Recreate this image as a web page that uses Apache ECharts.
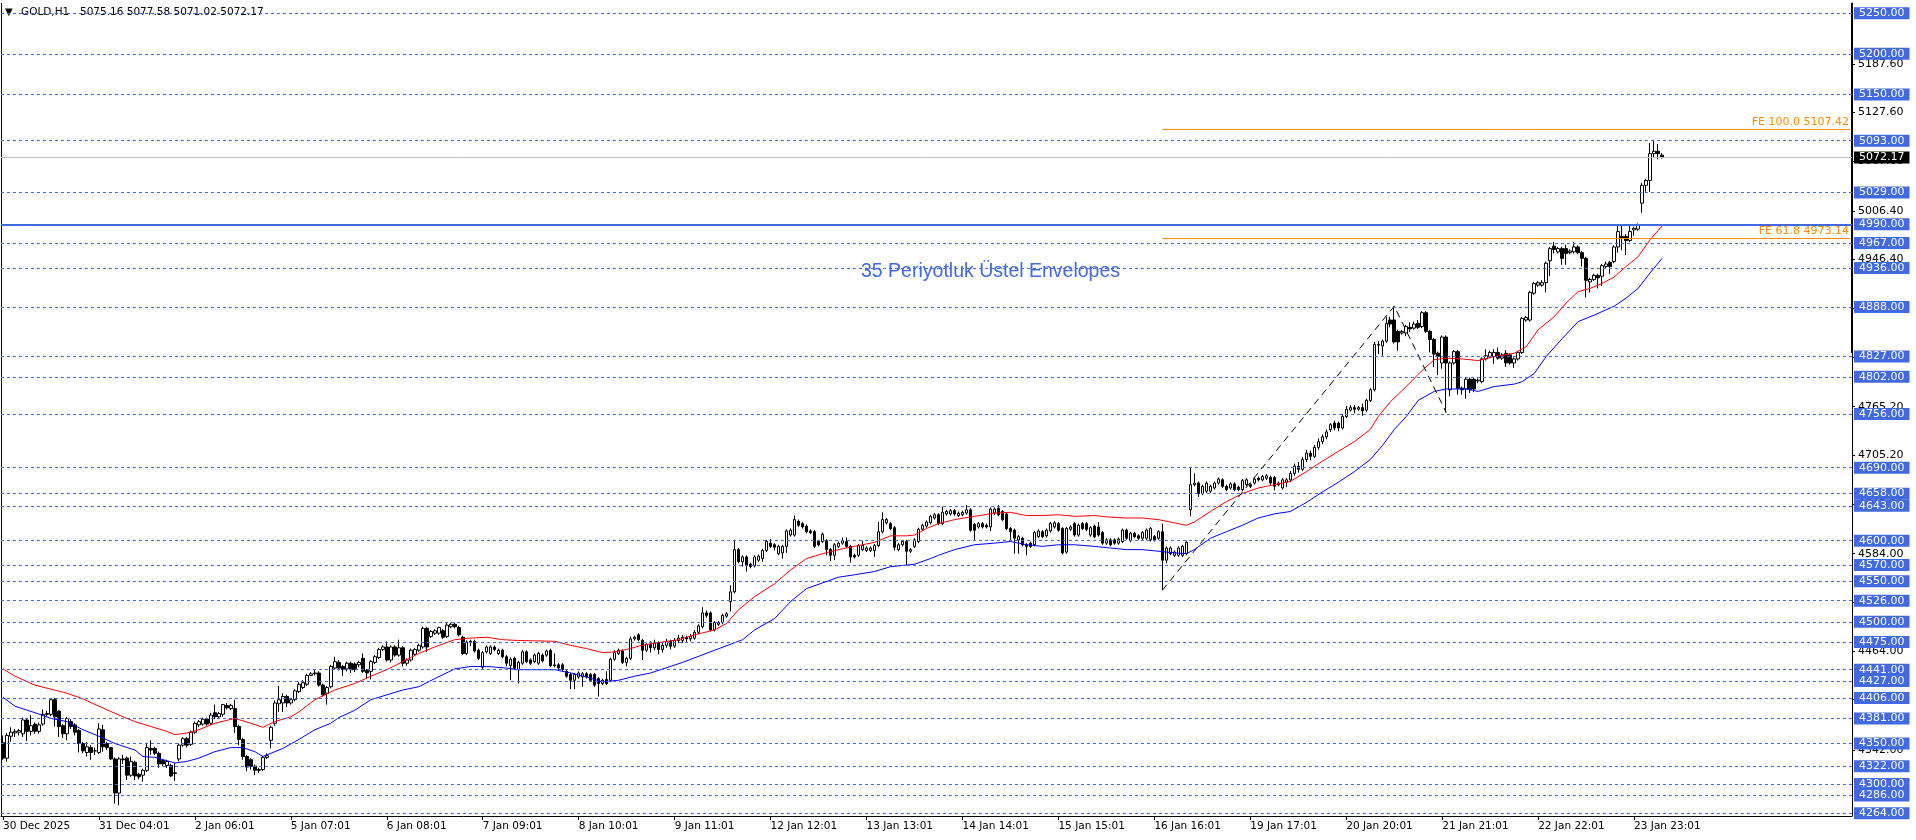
<!DOCTYPE html>
<html><head><meta charset="utf-8">
<script src="https://cdn.jsdelivr.net/npm/echarts@6/dist/echarts.min.js"></script>
<style>html,body{margin:0;padding:0;background:#fff}#c{width:1916px;height:840px}</style>
</head><body><div id="c"></div>
<script>
// ---- DATA ----
// candles: [open, close, low, high]
const candles30Dec_2Jan = [
[4351,4332,4330,4360],[4332,4360,4328,4363],[4359,4364,4352,4370],[4363,4365,4358,4368],[4364,4366,4360,4368],[4362,4379,4358,4382],[4379,4365,4353,4381],[4365,4372,4360,4385],[4374,4365,4362,4376],[4365,4373,4362,4376],
[4374,4386,4372,4392],[4386,4387,4383,4390],[4386,4404,4384,4405],[4404,4383,4371,4406],[4390,4371,4358,4391],[4372,4362,4357,4374],[4362,4381,4354,4383],[4377,4371,4368,4380],[4373,4364,4360,4375],[4366,4350,4339,4368],
[4350,4341,4338,4352],[4339,4346,4334,4352],[4345,4339,4330,4348],[4341,4341,4336,4345],[4339,4368,4337,4375],[4367,4346,4340,4373],[4350,4345,4342,4352],[4345,4331,4330,4345],[4331,4289,4276,4333],[4289,4331,4274,4333],
[4331,4330,4325,4336],[4332,4311,4305,4334],[4311,4328,4309,4334],[4327,4310,4305,4329],[4312,4309,4306,4314],[4311,4317,4303,4319],[4317,4345,4315,4351],[4344,4342,4336,4354],[4344,4338,4336,4346],[4338,4325,4320,4340],
[4329,4325,4322,4331],[4323,4328,4320,4330],[4323,4310,4309,4325],[4313,4314,4304,4326],[4331,4348,4328,4350],[4348,4356,4346,4358],[4356,4348,4345,4358],[4349,4364,4347,4366],[4364,4375,4362,4377],[4373,4377,4370,4379],
[4374,4380,4372,4382],[4380,4374,4372,4382],[4375,4385,4373,4388],[4388,4383,4380,4398],[4383,4387,4381,4389],[4386,4398,4383,4399],[4397,4394,4392,4400],[4393,4397,4391,4399],[4393,4371,4363,4404],[4371,4355,4348,4373],
[4355,4334,4330,4357],[4334,4321,4316,4336],[4330,4322,4318,4332],[4322,4317,4311,4324],[4317,4318,4314,4320],[4318,4333,4316,4335],[4333,4335,4331,4338],[4354,4370,4344,4372],[4375,4400,4372,4403],[4399,4404,4389,4421],
[4400,4408,4389,4412],[4408,4400,4395,4410],[4400,4404,4398,4406],[4404,4415,4402,4417],[4414,4423,4412,4426],[4419,4425,4417,4428],[4423,4434,4421,4436],[4434,4436,4433,4438],[4436,4437,4434,4441],[4437,4422,4420,4439],
[4422,4410,4408,4424],[4412,4419,4398,4421]
];
const candles5Jan_8Jan = [
[4420,4445,4418,4447],[4443,4451,4441,4457],[4450,4443,4440,4453],[4445,4441,4433,4447],[4442,4449,4439,4451],[4449,4441,4437,4451],[4448,4441,4438,4450],[4447,4450,4444,4452],[4455,4439,4437,4461],[4440,4437,4430,4442],
[4439,4451,4429,4453],[4450,4457,4448,4459],[4456,4466,4454,4468],[4466,4469,4464,4471],[4469,4453,4451,4476],[4453,4469,4450,4471],[4469,4459,4457,4471],[4459,4468,4457,4478],[4468,4449,4445,4470],[4449,4453,4446,4455],
[4453,4465,4451,4467],[4460,4466,4458,4468],[4465,4471,4463,4473],[4469,4492,4467,4494],[4492,4469,4463,4494],[4482,4488,4480,4490],[4486,4489,4484,4491],[4486,4493,4484,4494],[4489,4481,4479,4491],[4482,4496,4480,4500],
[4494,4497,4492,4499],[4497,4494,4492,4499],[4493,4484,4482,4495],[4481,4461,4459,4483],[4461,4475,4459,4477],[4476,4475,4470,4478],[4476,4464,4462,4478],[4465,4455,4453,4467],[4444,4462,4442,4464],[4463,4469,4461,4471],
[4461,4469,4459,4471],[4469,4466,4464,4471],[4461,4465,4459,4467],[4465,4457,4455,4467],[4457,4449,4445,4459],[4446,4454,4428,4456],[4455,4443,4441,4457],[4441,4450,4424,4452],[4449,4463,4447,4465],[4463,4451,4449,4465],
[4453,4449,4447,4455],[4451,4459,4449,4461],[4449,4461,4447,4463],[4459,4452,4450,4461],[4459,4464,4457,4466],[4465,4446,4444,4467],[4447,4446,4444,4461],[4447,4443,4441,4449],[4447,4441,4439,4449],[4439,4433,4431,4441],
[4435,4428,4417,4437],[4428,4435,4417,4437],[4432,4437,4430,4439],[4432,4436,4420,4438],[4436,4432,4430,4438],[4435,4428,4426,4437],[4435,4422,4420,4437],[4430,4424,4408,4432],[4424,4428,4422,4430],[4429,4424,4422,4439],
[4428,4454,4426,4456],[4454,4462,4452,4465],[4461,4465,4459,4467],[4464,4450,4448,4466],[4450,4455,4445,4457],[4455,4479,4453,4482],[4479,4481,4477,4483],[4484,4478,4476,4486],[4477,4465,4453,4479],[4465,4472,4463,4474]
];
const candles9Jan_13Jan = [
[4472,4468,4462,4476],[4468,4474,4465,4478],[4474,4466,4460,4476],[4466,4471,4462,4474],[4471,4476,4468,4479],[4476,4470,4466,4478],[4470,4477,4468,4480],[4477,4480,4474,4484],[4477,4481,4474,4484],[4481,4479,4475,4483],
[4479,4482,4476,4485],[4480,4487,4478,4490],[4487,4495,4485,4497],[4494,4511,4492,4518],[4511,4508,4505,4514],[4511,4490,4488,4513],[4490,4499,4488,4501],[4497,4499,4495,4501],[4499,4508,4497,4510],[4507,4510,4505,4512],
[4525,4537,4513,4545],[4537,4589,4535,4601],[4589,4574,4572,4591],[4574,4580,4568,4582],[4580,4570,4562,4582],[4571,4568,4566,4573],[4569,4580,4567,4582],[4576,4581,4574,4583],[4578,4588,4574,4590],[4588,4599,4586,4601],
[4597,4593,4591,4602],[4595,4592,4588,4597],[4584,4593,4582,4595],[4585,4593,4578,4595],[4593,4612,4585,4614],[4607,4613,4605,4615],[4607,4626,4605,4631],[4624,4619,4617,4626],[4621,4617,4615,4623],[4618,4611,4609,4620],
[4612,4610,4608,4614],[4611,4593,4591,4613],[4599,4595,4593,4601],[4599,4608,4597,4610],[4600,4589,4582,4602],[4589,4582,4575,4591],[4582,4595,4576,4597],[4593,4597,4591,4599],[4597,4600,4595,4604],[4599,4593,4591,4604],
[4593,4580,4573,4595],[4582,4580,4578,4584],[4582,4594,4580,4596],[4589,4594,4587,4600],[4588,4591,4586,4593],[4588,4591,4586,4593],[4588,4594,4580,4596],[4594,4611,4592,4623],[4611,4626,4609,4635],[4622,4626,4620,4628],
[4621,4615,4613,4623],[4616,4592,4588,4618],[4589,4595,4587,4597],[4595,4599,4593,4601],[4599,4587,4570,4601],[4587,4589,4585,4591],[4593,4601,4591,4603],[4599,4614,4597,4616],[4614,4619,4612,4621],[4618,4623,4616,4625],
[4622,4630,4620,4632],[4628,4632,4626,4634],[4632,4621,4619,4634],[4621,4635,4619,4642],[4633,4636,4631,4638],[4633,4637,4631,4639],[4637,4633,4631,4639],[4631,4634,4629,4636],[4632,4635,4630,4637],[4634,4638,4632,4644]
];
const candles14Jan_19Jan = [
[4638,4613,4611,4640],[4620,4613,4601,4622],[4617,4621,4615,4623],[4621,4617,4615,4623],[4619,4617,4615,4621],[4617,4639,4612,4641],[4634,4639,4632,4641],[4640,4632,4630,4644],[4636,4626,4624,4638],[4633,4615,4613,4635],
[4615,4611,4601,4617],[4613,4603,4584,4615],[4601,4605,4584,4607],[4603,4595,4593,4605],[4595,4593,4582,4597],[4597,4593,4591,4599],[4595,4610,4593,4612],[4605,4612,4603,4614],[4611,4605,4603,4613],[4606,4613,4604,4615],
[4612,4621,4610,4623],[4617,4622,4615,4624],[4621,4613,4611,4623],[4615,4585,4583,4617],[4586,4615,4584,4617],[4614,4617,4612,4619],[4621,4607,4605,4623],[4607,4619,4605,4621],[4621,4615,4613,4623],[4621,4614,4612,4623],
[4607,4616,4605,4618],[4618,4605,4603,4620],[4617,4607,4605,4623],[4610,4597,4595,4612],[4597,4601,4595,4603],[4601,4595,4593,4603],[4601,4597,4595,4603],[4597,4602,4595,4604],[4599,4613,4597,4615],[4613,4603,4601,4615],
[4600,4609,4598,4611],[4609,4605,4603,4611],[4606,4603,4601,4608],[4603,4610,4601,4612],[4603,4613,4601,4615],[4601,4615,4599,4617],[4605,4601,4599,4607],[4603,4611,4601,4613],[4611,4576,4539,4621],[4576,4591,4572,4593],
[4584,4591,4582,4593],[4582,4586,4580,4588],[4582,4591,4580,4593],[4582,4593,4580,4595],[4584,4598,4582,4600],[4638,4669,4630,4691],[4669,4671,4667,4683],[4671,4658,4654,4673],[4658,4667,4656,4669],[4661,4671,4659,4673],
[4661,4667,4659,4669],[4665,4671,4663,4673],[4671,4676,4669,4678],[4675,4667,4665,4677],[4667,4663,4661,4669],[4665,4670,4663,4672],[4670,4663,4661,4672],[4666,4663,4661,4668],[4663,4674,4661,4676],[4669,4675,4667,4677],
[4669,4667,4665,4671],[4671,4676,4669,4678],[4677,4675,4673,4679],[4675,4679,4673,4681],[4677,4680,4675,4682],[4678,4671,4669,4680],[4678,4667,4662,4680],[4669,4671,4667,4673],[4665,4675,4663,4677],[4672,4675,4666,4677]
];
const candles20Jan_26Jan = [
[4675,4683,4672,4686],[4683,4692,4680,4695],[4692,4688,4684,4697],[4688,4700,4686,4703],[4700,4708,4697,4712],[4708,4704,4699,4711],[4704,4715,4702,4718],[4715,4722,4712,4726],[4722,4728,4719,4731],[4728,4734,4725,4737],
[4737,4743,4734,4745],[4745,4739,4736,4748],[4745,4739,4735,4747],[4739,4753,4737,4756],[4753,4762,4751,4766],[4761,4764,4759,4767],[4764,4762,4757,4767],[4762,4764,4760,4766],[4764,4760,4754,4769],[4761,4773,4759,4775],
[4773,4786,4771,4788],[4786,4842,4784,4845],[4841,4842,4830,4846],[4840,4846,4828,4848],[4846,4868,4844,4876],[4872,4867,4863,4876],[4872,4845,4843,4889],[4858,4845,4834,4860],[4856,4858,4854,4860],[4856,4864,4852,4866],
[4863,4861,4857,4869],[4862,4867,4860,4870],[4868,4863,4861,4872],[4864,4881,4862,4883],[4881,4858,4856,4883],[4858,4848,4832,4860],[4848,4830,4814,4850],[4831,4827,4804,4833],[4819,4851,4812,4853],[4851,4819,4758,4853],
[4786,4819,4778,4821],[4819,4833,4817,4835],[4833,4788,4780,4835],[4788,4786,4780,4790],[4787,4799,4775,4801],[4799,4786,4782,4801],[4799,4787,4783,4801],[4797,4798,4794,4800],[4796,4824,4794,4826],[4824,4828,4822,4836],
[4827,4832,4825,4834],[4827,4832,4818,4836],[4832,4825,4823,4838],[4825,4829,4823,4831],[4831,4819,4814,4835],[4829,4819,4817,4831],[4819,4824,4813,4826],[4824,4832,4822,4834],[4832,4874,4830,4876],[4872,4875,4870,4877],
[4872,4906,4870,4908],[4905,4917,4903,4919],[4915,4918,4913,4920],[4915,4918,4913,4921],[4918,4942,4906,4944],[4945,4960,4926,4962],[4963,4959,4954,4968],[4956,4960,4954,4962],[4960,4948,4940,4962],[4960,4954,4940,4965],
[4955,4957,4953,4959],[4956,4962,4954,4968],[4962,4955,4953,4964],[4955,4948,4938,4957],[4948,4921,4900,4950],[4919,4922,4906,4924],[4922,4927,4920,4929],[4927,4924,4911,4929],[4926,4939,4914,4941],[4938,4941,4936,4944],
[4943,4938,4929,4945],[4944,4962,4942,4964],[4962,4981,4955,4989],[4975,4973,4958,4988],[4975,4970,4952,4978],[4970,4981,4968,4988],[4983,4985,4976,4987],[4984,4989,4982,4991],[5016,5038,5004,5041],[5038,5044,5030,5046],
[5044,5077,5030,5090],[5077,5080,5072,5094],[5080,5077,5070,5089],[5075.16,5072.17,5071.02,5077.58]
];
// envelope lines, sampled: [bar index, price]
const upperEnvelope = [
[0,4442],[3,4433],[8,4422],[12,4417],[16,4412],[20,4405],[24,4396],[30,4383],[33,4377],[37,4371],[41,4365],[43,4361],[46,4363],[49,4367],[53,4375],[58,4381],[62,4375],[65,4370],[68,4377],[72,4383],[74,4389],[78,4404],
[83,4416],[88,4424],[92,4433],[96,4441],[100,4451],[104,4461],[108,4469],[113,4478],[117,4480],[121,4481],[125,4478],[129,4477],[138,4476],[142,4471],[146,4467],[150,4462],[153,4463],[156,4466],[159,4470],[162,4473],
[169,4478],[173,4484],[178,4490],[181,4498],[184,4515],[188,4531],[193,4547],[197,4564],[201,4578],[205,4584],[209,4589],[213,4593],[218,4598],[222,4606],[226,4606],[228,4607],[231,4615],[234,4621],[238,4626],
[243,4630],[248,4634],[252,4635],[256,4631],[260,4631],[264,4632],[268,4630],[273,4631],[277,4629],[281,4628],[285,4628],[289,4626],[293,4622],[296,4619],[298,4623],[302,4636],[306,4648],[310,4658],[314,4665],[318,4669],[322,4673],
[326,4685],[330,4698],[334,4710],[338,4722],[342,4737],[344,4753],[347,4771],[351,4790],[355,4810],[358,4823],[361,4825],[365,4824],[369,4822],[373,4827],[378,4831],[381,4839],[384,4860],[388,4876],[391,4893],[394,4907],[397,4911],[400,4917],[403,4925],[406,4938],[409,4950],[412,4971],[415,4988]
];
const lowerEnvelope = [
[0,4407],[3,4396],[8,4388],[12,4381],[16,4377],[20,4367],[24,4359],[28,4350],[33,4342],[35,4334],[38,4333],[43,4326],[46,4328],[49,4332],[53,4340],[57,4345],[60,4345],[63,4340],[65,4334],[70,4344],[74,4355],[78,4367],[82,4375],
[84,4382],[88,4391],[92,4404],[96,4410],[100,4416],[104,4420],[108,4430],[113,4442],[117,4445],[121,4445],[126,4443],[129,4441],[138,4441],[142,4437],[146,4432],[150,4426],[154,4428],[158,4433],[162,4437],
[170,4450],[178,4465],[185,4478],[188,4490],[193,4504],[197,4525],[201,4541],[205,4548],[209,4555],[213,4558],[218,4562],[222,4568],[226,4570],[228,4571],[232,4578],[234,4582],[238,4589],
[243,4595],[248,4597],[252,4599],[256,4595],[260,4593],[264,4595],[268,4595],[273,4593],[277,4591],[281,4589],[285,4589],[289,4587],[293,4585],[296,4584],[298,4589],[302,4603],[306,4611],[310,4619],[314,4628],[318,4633],[322,4636],
[326,4647],[330,4660],[334,4672],[338,4685],[342,4700],[345,4717],[348,4737],[351,4753],[354,4773],[358,4784],[361,4787],[366,4787],[369,4784],[373,4790],[378,4793],[380,4796],[383,4806],[386,4827],[390,4849],[394,4870],[398,4878],[403,4889],[406,4899],[409,4911],[412,4930],[415,4948]
];
// Fibonacci expansion anchors: [bar index, price]
const feAnchors = [[290,4539],[348,4889],[361,4758]];
const fe100 = 5107.42, fe618 = 4973.14, feStartBar = 290;
const lastPrice = 5072.17;
const dashedLevels = [5250,5200,5150,5093,5029,4967,4936,4888,4827,4802,4756,4690,4658,4643,4600,4570,4550,4526,4500,4475,4441,4427,4406,4381,4350,4322,4300,4286,4264];
const solidLevel = 4990;
const priceTicks = [5187.6,5127.6,5067.6,5006.4,4946.4,4886.4,4826.4,4765.2,4705.2,4645.2,4584.0,4524.0,4464.0,4404.0,4342.0];
const timeLabels = ["30 Dec 2025","31 Dec 04:01","2 Jan 06:01","5 Jan 07:01","6 Jan 08:01","7 Jan 09:01","8 Jan 10:01","9 Jan 11:01","12 Jan 12:01","13 Jan 13:01","14 Jan 14:01","15 Jan 15:01","16 Jan 16:01","19 Jan 17:01","20 Jan 20:01","21 Jan 21:01","22 Jan 22:01","23 Jan 23:01"];
const barsPerLabel = 24;

// ---- BUILD ----
const candles = [].concat(candles30Dec_2Jan, candles5Jan_8Jan, candles9Jan_13Jan, candles14Jan_19Jan, candles20Jan_26Jan);
const totalSlots = 463;
const cats = Array.from({length: totalSlots}, (_, i) => String(i));
const isLabelIdx = (i) => i % barsPerLabel === 0 && (i / barsPerLabel) < timeLabels.length;
const FONT = 'DejaVu Sans';
const blue = '#4169E1';

const levelLines = dashedLevels.map(v => ({
  yAxis: v,
  lineStyle: {color: blue, type: [3, 3], width: 1}
}));
levelLines.push({yAxis: solidLevel, lineStyle: {color: blue, type: 'solid', width: 2}});
const boxLabel = {
  show: true, position: 'end', distance: 2,
  formatter: p => Number(p.value).toFixed(2),
  backgroundColor: blue, color: '#fff', fontFamily: FONT, fontSize: 11,
  padding: [1, 5, 0, 5], lineHeight: 11
};
levelLines.forEach(l => l.label = boxLabel);
levelLines.push({
  yAxis: lastPrice,
  lineStyle: {color: '#C0C0C0', type: 'solid', width: 1},
  label: Object.assign({}, boxLabel, {backgroundColor: '#000'})
});
const lastIdx = totalSlots - 1;
const feLine = (v, name) => [
  {coord: [feStartBar, v], lineStyle: {color: '#FF8C00', type: 'solid', width: 1},
   label: {show: true, position: 'insideEndTop', distance: 1, formatter: name + ' ' + v.toFixed(2), color: '#FF8C00', fontFamily: FONT, fontSize: 11}},
  {coord: [lastIdx, v]}
];

const chart = echarts.init(document.getElementById('c'), null, {renderer: 'canvas'});
chart.setOption({
  animation: false,
  backgroundColor: '#fff',
  grid: {left: 1, right: 64, top: 3, bottom: 24, containLabel: false, outerBoundsMode: 'none'},
  xAxis: {
    type: 'category', data: cats, boundaryGap: true,
    axisLine: {show: true, lineStyle: {color: '#000', width: 1}},
    axisTick: {show: true, alignWithLabel: true, length: 4, interval: (i) => isLabelIdx(i), lineStyle: {color: '#000'}},
    axisLabel: {show: true, interval: (i) => isLabelIdx(i), formatter: (v, i) => isLabelIdx(i) ? timeLabels[i / barsPerLabel] : '',
      align: 'left', margin: 5, color: '#000', fontFamily: FONT, fontSize: 10.5},
    splitLine: {show: false}
  },
  yAxis: {
    type: 'value', position: 'right', min: 4260.7, max: 5262.7, scale: true,
    axisLine: {show: true, lineStyle: {color: '#000', width: 1}},
    axisTick: {show: true, customValues: priceTicks, length: 3, lineStyle: {color: '#000'}},
    axisLabel: {show: true, customValues: priceTicks, formatter: v => Number(v).toFixed(2), margin: 6, color: '#000', fontFamily: FONT, fontSize: 11},
    splitLine: {show: false}
  },
  series: [
    {
      type: 'candlestick', data: candles, barWidth: 3,
      itemStyle: {color: '#fff', color0: '#000', borderColor: '#000', borderColor0: '#000', borderWidth: 1},
      markLine: {silent: true, symbol: ['none', 'none'], animation: false, precision: 2,
        data: levelLines.concat([feLine(fe100, 'FE 100.0'), feLine(fe618, 'FE 61.8')])}
    },
    {type: 'line', data: upperEnvelope, symbol: 'none', lineStyle: {color: '#FF0000', width: 1}, z: 3},
    {type: 'line', data: lowerEnvelope, symbol: 'none', lineStyle: {color: '#0000FF', width: 1}, z: 3},
    {type: 'line', data: feAnchors, symbol: 'none', lineStyle: {color: '#000', width: 1, type: [7, 5]}, z: 4}
  ],
  graphic: [
    {type: 'rect', shape: {x: 1, y: 3, width: 1, height: 813}, style: {fill: '#000'}},
    {type: 'rect', shape: {x: 1851, y: 3, width: 2, height: 350}, style: {fill: '#000'}},
    {type: 'text', x: 5, y: 7, style: {text: '▼', fill: '#000', font: '10px "DejaVu Sans"'}},
    {type: 'text', x: 21, y: 7, style: {text: 'GOLD,H1', fill: '#000', font: '10.5px "DejaVu Sans"'}},
    {type: 'text', x: 80, y: 7, style: {text: '5075.16 5077.58 5071.02 5072.17', fill: '#000', font: '10.5px "DejaVu Sans"'}},
    {type: 'text', x: 861, y: 262, style: {text: '35 Periyotluk Üstel Envelopes', fill: blue, font: '19.5px "Liberation Sans"'}}
  ]
});
</script></body></html>
